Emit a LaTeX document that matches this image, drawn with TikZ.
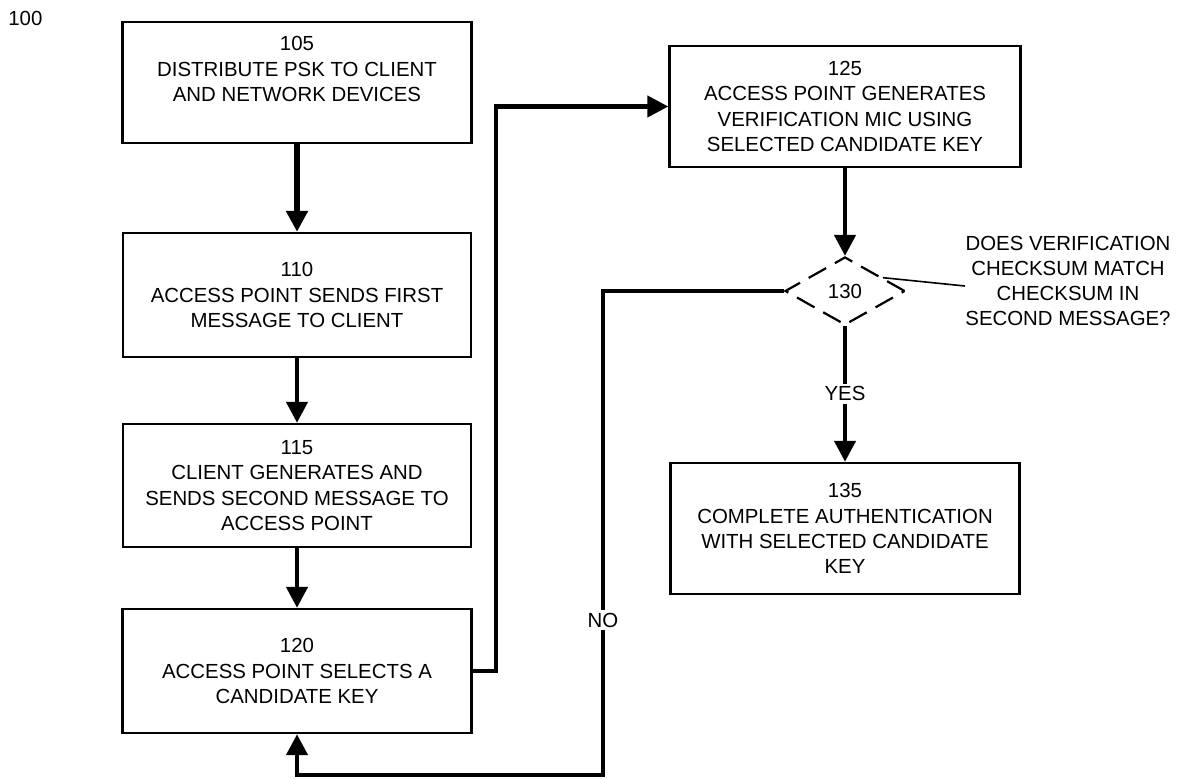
\documentclass[tikz,border=0pt]{standalone}
\usepackage{fontspec}
\setmainfont{Liberation Sans}
\usetikzlibrary{arrows.meta,shapes.geometric,calc}

\begin{document}
\begin{tikzpicture}[x=0.5bp,y=-0.5bp,
  font=\fontsize{10.2bp}{12.6bp}\selectfont,
  stepbox/.style={draw, line width=1.2bp, inner sep=0pt, align=center},
  txt/.style={align=center, inner sep=0pt},
  flow/.style={line width=2.2bp, -{Triangle[length=10.5bp,width=10.5bp]}},
  decision/.style={diamond, draw, dash pattern=on 10bp off 5bp, line width=1.1bp,
    inner sep=0pt, minimum width=60bp, minimum height=34bp},
  tag/.style={fill=white, inner sep=1.5bp}]

\useasboundingbox (0,0) rectangle (1184,778);

% figure number
\node[txt, anchor=west] (fig) at (8,18) {100};

% left column of steps
\node[stepbox, minimum width=174.5bp, minimum height=60.5bp] (b105) at (297,82.5) {};
\node[txt] (t105) at (297,69) {105\\DISTRIBUTE PSK TO CLIENT\\AND NETWORK DEVICES};
\node[stepbox, minimum width=174bp, minimum height=62bp] (b110) at (297,295)
  {110\\ACCESS POINT SENDS FIRST\\MESSAGE TO CLIENT};
\node[stepbox, minimum width=174bp, minimum height=61.5bp] (b115) at (297,485.5)
  {115\\CLIENT GENERATES AND\\SENDS SECOND MESSAGE TO\\ACCESS POINT};
\node[stepbox, minimum width=174.5bp, minimum height=62bp] (b120) at (297,671)
  {120\\ACCESS POINT SELECTS A\\CANDIDATE KEY};

% right column
\node[stepbox, minimum width=175.5bp, minimum height=60.5bp] (b125) at (845,106.5)
  {125\\ACCESS POINT GENERATES\\VERIFICATION MIC USING\\SELECTED CANDIDATE KEY};
\node[decision] (dia) at (845,291) {130};
\node[stepbox, minimum width=174.5bp, minimum height=65.5bp] (b135) at (845,528.5)
  {135\\COMPLETE AUTHENTICATION\\WITH SELECTED CANDIDATE\\KEY};
\node[txt, anchor=west] (ask) at (965,281)
  {DOES VERIFICATION\\CHECKSUM MATCH\\CHECKSUM IN\\SECOND MESSAGE?};

% connectors
\draw[flow, line width=2.7bp] (b105.south) -- (b110.north);
\draw[flow] (b110.south) -- (b115.north);
\draw[flow] (b115.south) -- (b120.north);
\draw[flow] (b120.east) -- ++(23,0) |- (b125.west);
\draw[flow] (b125.south) -- (dia.north);
\draw[flow] (dia.south) -- node[tag] (yes) {YES} (b135.north);

\coordinate (noturn) at (603,775);
\draw[flow] (dia.west) -| (noturn) -| (b120.south);
\node[tag] (no) at (603,620) {NO};

% callout to the question
\draw[line width=0.8bp] ($(dia.north)!0.62!(dia.east)$) -- ([yshift=-2.5bp]ask.west);

\end{tikzpicture}
\end{document}
